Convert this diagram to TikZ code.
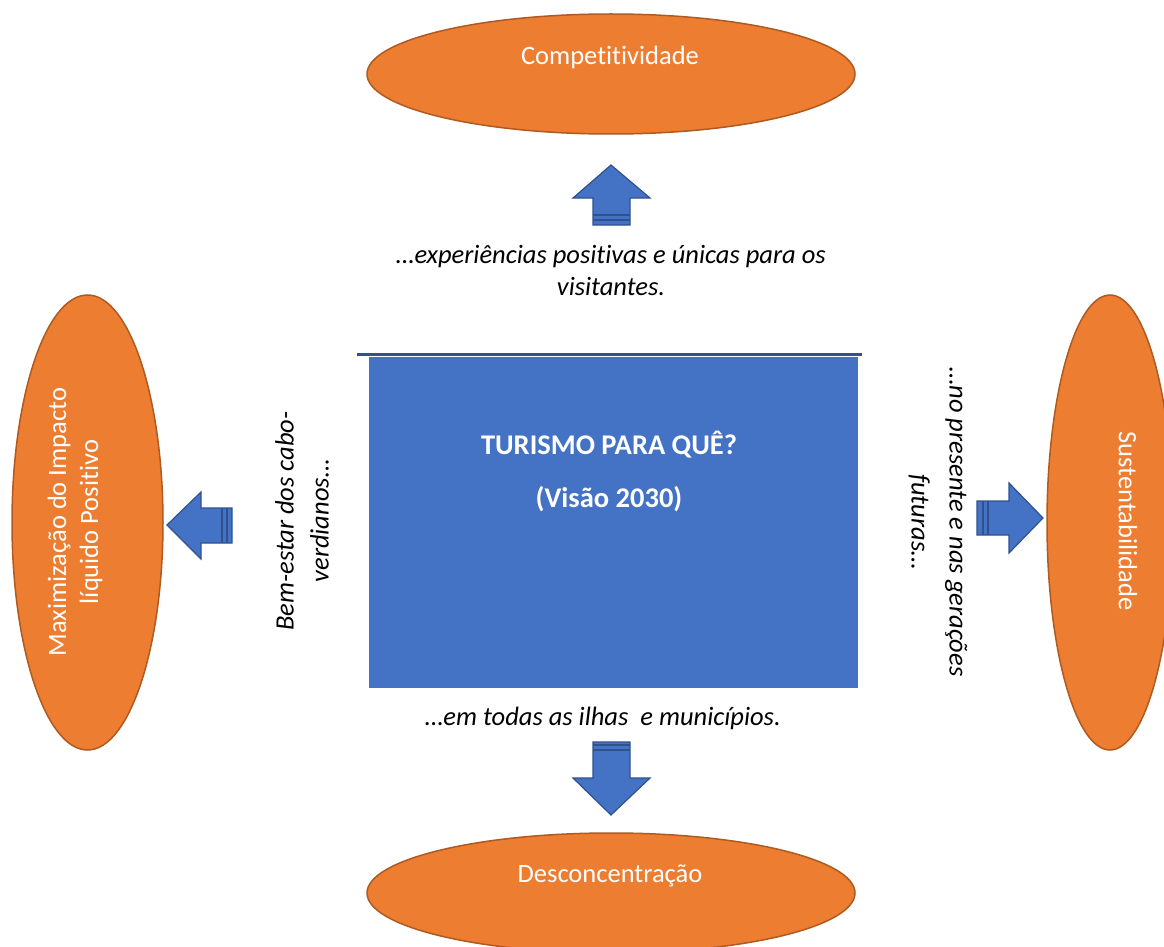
\documentclass[tikz,border=0pt]{standalone}
\usepackage{fontspec}
\setmainfont{Carlito}[Ligatures={NoCommon,NoContextual}]
\usetikzlibrary{shapes.geometric}
\definecolor{laranja}{HTML}{ED7D31}
\definecolor{laranjaborda}{HTML}{AE5A21}
\definecolor{azul}{HTML}{4472C4}
\definecolor{azulborda}{HTML}{2F528F}
\tikzstyle{pilar} = [ellipse, draw=laranjaborda, line width=1.5pt, fill=laranja, inner sep=0pt]
\tikzstyle{pilartexto} = [text=white, font=\fontsize{26.5}{32}\selectfont, align=center]
\tikzstyle{frase} = [font=\fontsize{26.5}{32}\selectfont\itshape, align=center]
\tikzstyle{seta} = [draw=azulborda, line width=1.2pt, fill=azul, line join=miter]
\tikzstyle{risca} = [draw=azulborda, line width=1.3pt]

\begin{document}
\begin{tikzpicture}[x=1pt, y=-1pt]
    \useasboundingbox (0,0) rectangle (1164,947);

    % Central box
    \node (visao) [rectangle, fill=azul, minimum width=489pt, minimum height=331pt, inner sep=0pt] at (613.5,522.5) {};
    \draw [azulborda, line width=3pt] (357,354) -- (862,354);
    \node (titulo) [text=white, font=\fontsize{28.5}{53}\selectfont\bfseries, align=center] at (609,471) {TURISMO PARA QUÊ?\\(Visão 2030)};

    % Pillars
    \node (compet) [pilar, minimum width=488pt, minimum height=120pt] at (611,74) {};
    \node (descon) [pilar, minimum width=488pt, minimum height=120pt] at (611,893) {};
    \node (impacto) [pilar, minimum width=151pt, minimum height=455pt] at (87.5,522.5) {};
    \node (susten) [pilar, minimum width=126pt, minimum height=455pt] at (1110,522.5) {};

    \node (compettxt) [pilartexto] at (610,57) {Competitividade};
    \node (descontxt) [pilartexto] at (610,876) {Desconcentração};
    \node (impactotxt) [pilartexto, rotate=90] at (75,522) {Maximização do Impacto\\líquido Positivo};
    \node (sustentxt) [pilartexto, rotate=-90] at (1128,521) {Sustentabilidade};

    % Sentences
    \node (fcima) [frase] at (611,270) {…experiências positivas e únicas para os\\visitantes.};
    \node (fbaixo) [frase] at (603,718) {…em todas as ilhas~ e municípios.};
    \node (fesq) [frase, rotate=90, font=\fontsize{26.5}{35}\selectfont\itshape] at (302,521) {Bem-estar dos cabo-\\verdianos…};
    \node (fdir) [frase, rotate=-90, font=\fontsize{26.5}{38}\selectfont\itshape] at (938,522) {…no presente e nas gerações\\futuras…};

    % Block arrows
    \draw [seta] (611,165) -- (650,198) -- (630,198) -- (630,225) -- (593,225) -- (593,198) -- (573,198) -- cycle;
    \draw [risca] (593,215) -- (630,215) (593,220) -- (630,220);
    \draw [seta] (611,815) -- (650,778) -- (630,778) -- (630,742) -- (593,742) -- (593,778) -- (573,778) -- cycle;
    \draw [risca] (593,745) -- (630,745) (593,750) -- (630,750);
    \draw [seta] (167,525) -- (201,492) -- (201,508) -- (232,508) -- (232,543) -- (201,543) -- (201,559) -- cycle;
    \draw [risca] (222,508) -- (222,543) (227,508) -- (227,543);
    \draw [seta] (1043,518) -- (1009,483) -- (1009,501) -- (977,501) -- (977,535) -- (1009,535) -- (1009,553) -- cycle;
    \draw [risca] (983,501) -- (983,535) (988,501) -- (988,535);
\end{tikzpicture}
\end{document}
